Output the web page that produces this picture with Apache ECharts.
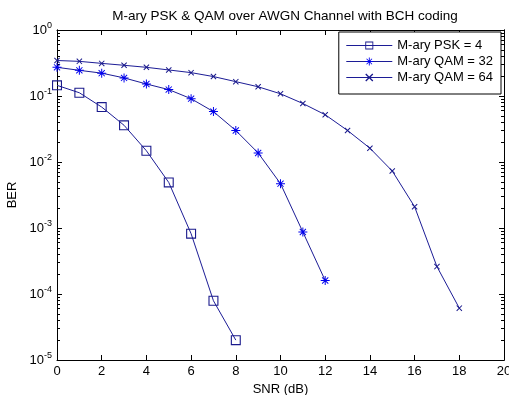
<!DOCTYPE html>
<html>
<head>
<meta charset="utf-8">
<script src="https://cdn.jsdelivr.net/npm/echarts@6/dist/echarts.min.js"></script>
<style>html,body{margin:0;padding:0;background:#fff}#c{width:509px;height:395px}</style>
</head>
<body>
<div id="c"></div>
<script>
var snr = [0,1,2,3,4,5,6,7,8,9,10,11,12,13,14,15,16,17,18];
var berPSK4 = [0.145,0.112,0.068,0.036,0.0148,0.0049,0.00082,0.000079,0.000020];
var berQAM32 = [0.272,0.245,0.222,0.188,0.152,0.125,0.091,0.058,0.030,0.0137,0.0047,0.00087,0.000160];
var berQAM64 = [0.345,0.335,0.312,0.292,0.272,0.248,0.226,0.197,0.165,0.138,0.108,0.077,0.052,0.030,0.0162,0.0073,0.0021,0.00026,0.000061];
var seriesNames = ['M-ary PSK = 4','M-ary QAM = 32','M-ary QAM = 64'];
var xTicks = [0,2,4,6,8,10,12,14,16,18,20];
var titleText = 'M-ary PSK & QAM over AWGN Channel with BCH coding';

function pairs(ys){ return ys.map(function(v,i){ return [snr[i], v]; }); }
var minorVals = [];
for (var e=-5; e<0; e++) for (var m=2; m<10; m++) minorVals.push(m*Math.pow(10,e));
var majorVals = [1e-5,1e-4,1e-3,1e-2,1e-1,1];

var FONT = 'Liberation Sans, Arial, sans-serif';
var LINE = '#1c1c96';
var squarePath = 'path://M0,0 L20,0 L20,20 L0,20 Z M2.2,2.2 L2.2,17.8 L17.8,17.8 L17.8,2.2 Z';
var starPath = 'path://M8.9,0 L11.1,0 L11.1,20 L8.9,20 Z M0,8.9 L20,8.9 L20,11.1 L0,11.1 Z M2.4,3.9 L3.9,2.4 L17.6,16.1 L16.1,17.6 Z M16.1,2.4 L17.6,3.9 L3.9,17.6 L2.4,16.1 Z';
var crossPath = 'path://M1.5,3.5 L3.5,1.5 L18.5,16.5 L16.5,18.5 Z M16.5,1.5 L18.5,3.5 L3.5,18.5 L1.5,16.5 Z';

function yAx(pos, vals, len, labels){
  return {
    type:'log', logBase:10, min:1e-5, max:1, position:pos,
    axisLine:{show:true, onZero:false, lineStyle:{color:'#000', width:1}},
    axisTick:{show:true, inside:true, length:len, customValues: vals, lineStyle:{color:'#000'}},
    axisLabel: labels ? {show:true, customValues: majorVals, margin:5, fontFamily:FONT,
      formatter:function(v){ var ex=Math.round(Math.log10(v)); return '{b|10}{s|'+ex+'}'; },
      rich:{b:{fontSize:13, fontFamily:FONT, color:'#000'}, s:{fontSize:9, fontFamily:FONT, color:'#000', padding:[0,0,8,0]}}} : {show:false},
    splitLine:{show:false}, minorTick:{show:false}, minorSplitLine:{show:false}
  };
}

var chart = echarts.init(document.getElementById('c'), null, {renderer:'canvas'});
chart.setOption({
  animation:false,
  backgroundColor:'#fff',
  title:{text:titleText, left:280, textAlign:'center', top:4, textStyle:{fontSize:13.5, fontWeight:'normal', fontFamily:FONT, color:'#000'}},
  grid:{left:57, right:5, top:30, bottom:35, containLabel:false, outerBoundsMode:'none'},
  xAxis:[{
    type:'value', min:0, max:20, interval:2, position:'bottom',
    name:'SNR (dB)', nameLocation:'middle', nameGap:17, nameTextStyle:{fontSize:13, fontFamily:FONT, color:'#000'},
    axisLine:{show:true, onZero:false, lineStyle:{color:'#000'}},
    axisTick:{show:true, inside:true, length:5, lineStyle:{color:'#000'}},
    axisLabel:{show:true, margin:5, fontSize:13, fontFamily:FONT, color:'#000'},
    splitLine:{show:false}
  },{
    type:'value', min:0, max:20, interval:2, position:'top',
    axisLine:{show:true, onZero:false, lineStyle:{color:'#000'}},
    axisTick:{show:true, inside:true, length:5, lineStyle:{color:'#000'}},
    axisLabel:{show:false}, splitLine:{show:false}
  }],
  yAxis:[
    Object.assign(yAx('left', majorVals, 5, true), {name:'BER', nameLocation:'middle', nameGap:35, nameTextStyle:{fontSize:13, fontFamily:FONT, color:'#000'}}),
    yAx('left', minorVals, 3, false),
    yAx('right', majorVals, 5, false),
    yAx('right', minorVals, 3, false)
  ],
  legend:{
    orient:'vertical', right:8, top:32,
    data:seriesNames,
    backgroundColor:'#fff', borderColor:'#000', borderWidth:1, borderRadius:0,
    padding:[7,8,10,7], itemWidth:46, itemHeight:10, itemGap:3,
    lineStyle:{width:1},
    textStyle:{fontSize:13, fontFamily:FONT, color:'#000'}
  },
  series:[
    {name:seriesNames[0], type:'line', data:pairs(berPSK4), symbol:squarePath, symbolSize:10,
     lineStyle:{color:LINE, width:1}, itemStyle:{color:'#1a1a8c'}},
    {name:seriesNames[1], type:'line', data:pairs(berQAM32), symbol:starPath, symbolSize:9,
     lineStyle:{color:LINE, width:1}, itemStyle:{color:'#0000ee'}},
    {name:seriesNames[2], type:'line', data:pairs(berQAM64), symbol:crossPath, symbolSize:6,
     lineStyle:{color:LINE, width:1}, itemStyle:{color:'#1a1a8c'}}
  ]
});
</script>
</body>
</html>
